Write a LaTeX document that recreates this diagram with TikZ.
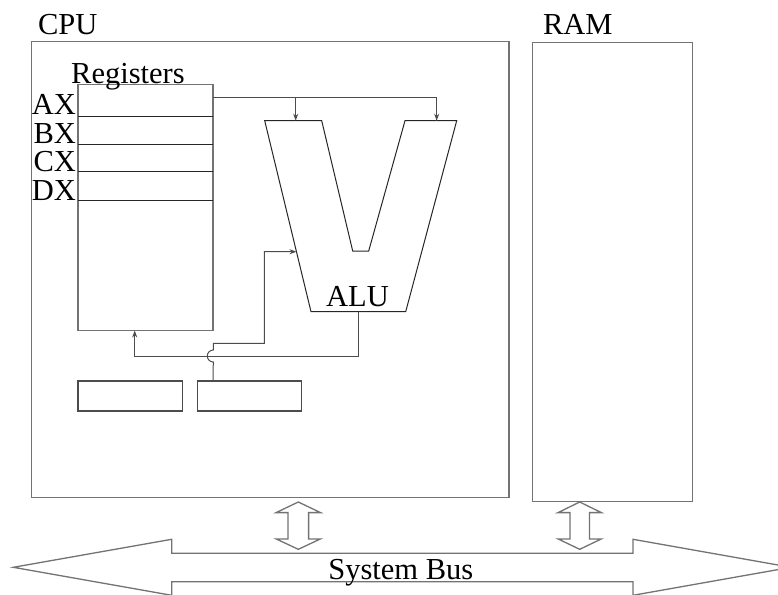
\documentclass[tikz,border=0pt]{standalone}
\usepackage{fontspec}
\setmainfont{Liberation Serif}
\usepackage{tikz}
\usetikzlibrary{arrows.meta, calc}

\definecolor{edgegray}{gray}{0.45}
\definecolor{linegray}{gray}{0.3}

\begin{document}
\begin{tikzpicture}[
    x=1pt, y=-1pt,
    font=\fontsize{30.5}{31}\selectfont,
    unit/.style={draw=edgegray, line width=1.3pt, inner sep=0pt, outer sep=0pt},
    label/.style={inner sep=0pt, outer sep=0pt},
    busarrow/.style={draw=edgegray, line width=1.3pt, fill=white},
    regline/.style={draw=black!85, line width=1pt},
    conn/.style={draw=linegray, line width=1pt},
    line/.style={conn, -{Stealth[length=7pt, width=5pt]}}
]
\useasboundingbox (0,0) rectangle (778,594);

% boxes
\node[unit, minimum width=477.3pt, minimum height=456pt] (cpu) at (270.3,269.7) {};
\node[unit, minimum width=160.2pt, minimum height=459.4pt] (ram) at (612.4,272) {};
\node[label, anchor=base west] (cpulabel) at (38,35) {CPU};
\node[label, anchor=base west] (ramlabel) at (543,35) {RAM};

% registers
\node[unit, minimum width=135pt, minimum height=246.2pt] (regs) at (145.5,207.4) {};
\node[label, anchor=base] (regtitle) at (128,83) {Registers};
\foreach \name/\ly/\by in {AX/116.7/114, BX/144.3/143.3, CX/171/171, DX/200/200} {
    \draw[regline] (78,\ly) -- (213,\ly);
    \node[label, anchor=base east] (reg\name) at (76,\by) {\name};
}

% small boxes
\node[unit, draw=linegray, minimum width=104.3pt, minimum height=30pt] (box1) at (130.2,396) {};
\node[unit, draw=linegray, minimum width=104.2pt, minimum height=30pt] (box2) at (249.6,396) {};

% ALU
\coordinate (aluA) at (295.7,120.7);
\coordinate (aluB) at (436.7,120.7);
\coordinate (aluC) at (296.5,251.7);
\coordinate (aluout) at (358.3,311.7);
\draw[draw=black!85, line width=1pt] (264.7,120.7) -- (321.7,120.7) -- (352.7,251) -- (368.7,251)
    -- (405,120.7) -- (456.7,120.7) -- (405.7,311.7) -- (311,311.7) -- cycle;
\node[label, anchor=base] (alulabel) at (357.5,306.7) {ALU};

% connectors
\coordinate (regout) at (213,97.3);
\coordinate (regin) at (134.7,330.5);
\draw[conn] (regout) -| (aluB);
\draw[line] (aluB |- regout) -- (aluB);
\draw[line] (aluA |- regout) -- (aluA);
\draw[line] (aluout) -- (358.3,356) -| (regin);
\draw[line] (box2.north -| regout) -- (213.3,362) arc[start angle=270, end angle=90, radius=6pt]
    -- (213.3,343.3) -| (264.3,251.7) -- (aluC);

% system bus
\draw[busarrow] (13.3,567.3) -- (171.7,539.3) -- (171.7,553.3) -- (633,553.3) -- (633,539.3)
    -- (791,567.3) -- (633,595.3) -- (633,581.7) -- (171.7,581.7) -- (171.7,595.3) -- cycle;
\node[label, anchor=base] (buslabel) at (400.8,579) {System Bus};
\foreach \cx/\hw/\sw [count=\i] in {298.3/22.2/10.3, 579.7/21.7/9.7} {
    \draw[busarrow] (\cx,502) -- (\cx+\hw,512.6) -- (\cx+\sw,512.6) -- (\cx+\sw,538.9)
        -- (\cx+\hw,538.9) -- (\cx,549.3) -- (\cx-\hw,538.9) -- (\cx-\sw,538.9)
        -- (\cx-\sw,512.6) -- (\cx-\hw,512.6) -- cycle;
}

\end{tikzpicture}
\end{document}
